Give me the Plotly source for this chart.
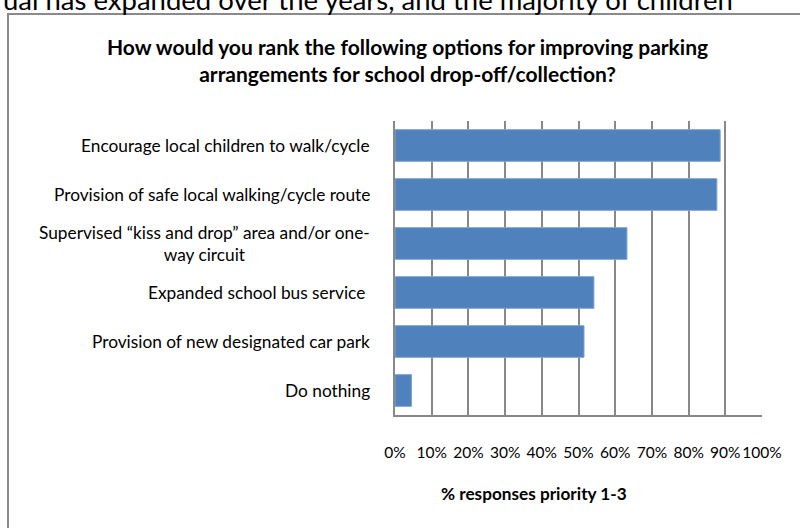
import plotly.graph_objects as go

# Survey options, listed from top to bottom
options = [
    "Encourage local children to walk/cycle",
    "Provision of safe local walking/cycle route",
    "Supervised \u201ckiss and drop\u201d area and/or one-<br>way circuit",
    "Expanded school bus service\u00a0",
    "Provision of new designated car park",
    "Do nothing",
]
# Share of responses ranking the option as priority 1-3
share_priority_1_3 = [0.886, 0.877, 0.632, 0.542, 0.515, 0.045]

tick_values = [i / 10 for i in range(11)]
tick_labels = [f"{i * 10}%" for i in range(11)]

title_text = ("How would you rank the following options for improving parking<br>"
              "arrangements for school drop-off/collection?")
x_title_text = "% responses priority 1-3"
body_text = "ual has expanded over the years, and the majority of children"

FONT = "Lato, 'Open Sans', sans-serif"
GRID = "#888888"

W, H = 800, 528
L, R, T, B = 395, 38, 121, 113
plot_w = W - L - R
plot_h = H - T - B


def px_x(px):
    """Convert a pixel x position to paper coordinates."""
    return (px - L) / plot_w


def px_y(py):
    """Convert a pixel y position (from top) to paper coordinates."""
    return (H - B - py) / plot_h


fig = go.Figure(
    go.Bar(
        x=share_priority_1_3,
        y=options,
        orientation="h",
        marker=dict(color="#4F81BD", line=dict(color="#7FA3D3", width=1)),
        hoverinfo="x+y",
    )
)

annotations = []
# Category labels: right-aligned block, centred lines
for opt in options:
    annotations.append(dict(
        x=px_x(372), xref="paper", y=opt, yref="y",
        text=opt, showarrow=False, xanchor="right", yanchor="middle",
        align="center", font=dict(family=FONT, size=17.3, color="#000000"),
    ))

# Chart title
annotations.append(dict(
    x=px_x(407), xref="paper", y=px_y(60), yref="paper",
    text=f"<b>{title_text}</b>", showarrow=False, xanchor="center",
    yanchor="middle", align="center",
    font=dict(family=FONT, size=21, color="#000000"),
))

# Axis title
annotations.append(dict(
    x=px_x(534), xref="paper", y=px_y(493), yref="paper",
    text=f"<b>{x_title_text}</b>", showarrow=False, xanchor="center",
    yanchor="middle", font=dict(family=FONT, size=17.2, color="#000000"),
))

# Surrounding document text running above the chart frame
annotations.append(dict(
    x=px_x(735), xref="paper", y=px_y(-1), yref="paper",
    text=body_text, showarrow=False, xanchor="right", yanchor="middle",
    font=dict(family=FONT, size=27.5, color="#000000"),
))

fig.update_layout(
    width=W, height=H, autosize=False,
    margin=dict(l=L, r=R, t=T, b=B, pad=0, autoexpand=False),
    paper_bgcolor="white", plot_bgcolor="white",
    bargap=0.353,
    showlegend=False,
    annotations=annotations,
    shapes=[dict(
        type="rect", xref="paper", yref="paper",
        x0=px_x(8), x1=px_x(812), y0=px_y(540), y1=px_y(14),
        line=dict(color="#8A8A8A", width=2), fillcolor="rgba(0,0,0,0)",
        layer="below",
    )],
    xaxis=dict(
        range=[0, 1], tickvals=tick_values, ticktext=tick_labels,
        showgrid=True, gridcolor=GRID, gridwidth=1.5,
        showline=True, linecolor=GRID, linewidth=2,
        zeroline=False, ticks="", ticklabelstandoff=22, tickangle=0,
        automargin=False,
        tickfont=dict(family=FONT, size=15.5, color="#000000"),
        fixedrange=True,
    ),
    yaxis=dict(
        categoryorder="array", categoryarray=options, autorange="reversed",
        showticklabels=False, ticks="", showgrid=False, automargin=False,
        showline=True, linecolor=GRID, linewidth=2, zeroline=False,
        fixedrange=True,
    ),
)

fig.write_html("out.html")
